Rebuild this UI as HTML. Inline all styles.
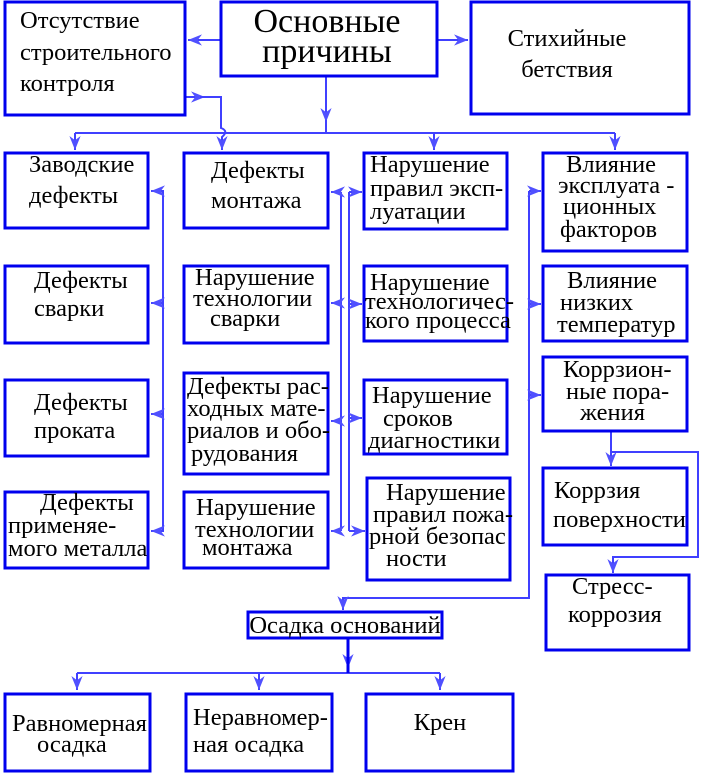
<!DOCTYPE html>
<html><head><meta charset="utf-8"><style>
html,body{margin:0;padding:0;background:#fff;}
svg{display:block;}
svg text{font-family:"Liberation Serif","Times New Roman",Times,"DejaVu Serif",serif;font-size:24.5px;fill:#000;}
.b{fill:#fff;stroke:#0000ee;stroke-width:3;}
.l{stroke:#4040ff;stroke-width:2;fill:none;}
</style></head><body>
<svg width="702" height="778" viewBox="0 0 702 778">
<defs><marker id="a" viewBox="0 0 10 10" refX="10" refY="5" markerWidth="7" markerHeight="7" orient="auto"><path d="M0,1 L10,5 L0,9 L3,5z" fill="#5050ff"/></marker></defs>

<g class="l">
<path d="M221,40 H188" marker-end="url(#a)"/>
<path d="M437,40 H468" marker-end="url(#a)"/>
<path d="M326,76 V122" marker-end="url(#a)"/>
<path d="M326,120 V133 M75,133 H615"/>
<path d="M75,133 V150" marker-end="url(#a)"/>
<path d="M434,133 V150" marker-end="url(#a)"/>
<path d="M615,133 V150" marker-end="url(#a)"/>
<path d="M185,97 H205" marker-end="url(#a)"/>
<path d="M200,97 H221 V128 Q229,131 222,137 V150" marker-end="url(#a)"/>
<path d="M163,190 V532"/>
<path d="M163,191 H151" marker-end="url(#a)"/>
<path d="M163,303 H151" marker-end="url(#a)"/>
<path d="M163,414 H151" marker-end="url(#a)"/>
<path d="M163,531 H151" marker-end="url(#a)"/>
<path d="M341,192 V531"/>
<path d="M341,192 H331" marker-end="url(#a)"/>
<path d="M341,303 H331" marker-end="url(#a)"/>
<path d="M341,421 H331" marker-end="url(#a)"/>
<path d="M341,531 H331" marker-end="url(#a)"/>
<path d="M349,192 V531"/>
<path d="M349,192 H362" marker-end="url(#a)"/>
<path d="M349,304 H362" marker-end="url(#a)"/>
<path d="M349,418 H362" marker-end="url(#a)"/>
<path d="M349,531 H365" marker-end="url(#a)"/>
<path d="M529,191 V598 H343 V610" />
<path d="M343,600 V610" marker-end="url(#a)"/>
<path d="M529,191 H541" marker-end="url(#a)"/>
<path d="M529,304 H541" marker-end="url(#a)"/>
<path d="M529,395 H541" marker-end="url(#a)"/>
<path d="M611,431 V466" marker-end="url(#a)"/>
<path d="M611,452 H698 V557 H613 V573" marker-end="url(#a)"/>
<path d="M348,639 V668" marker-end="url(#a)"/>
<path d="M77,673 H440"/>
<path d="M77,673 V690" marker-end="url(#a)"/>
<path d="M259,673 V690" marker-end="url(#a)"/>
<path d="M440,673 V690" marker-end="url(#a)"/>
</g>
<path d="M348,639 V673" stroke="#0000ee" stroke-width="3"/>

<rect class="b" x="5" y="2" width="180" height="113"/>
<rect class="b" x="221" y="2" width="216" height="74"/>
<rect class="b" x="471" y="2" width="218" height="112"/>
<rect class="b" x="5" y="153" width="143" height="75"/>
<rect class="b" x="184" y="153" width="144" height="75"/>
<rect class="b" x="364" y="153" width="143" height="76"/>
<rect class="b" x="543" y="153" width="144" height="98"/>
<rect class="b" x="5" y="266" width="143" height="77"/>
<rect class="b" x="184" y="266" width="144" height="77"/>
<rect class="b" x="364" y="266" width="143" height="75"/>
<rect class="b" x="543" y="266" width="144" height="75"/>
<rect class="b" x="5" y="380" width="143" height="76"/>
<rect class="b" x="184" y="373" width="144" height="101"/>
<rect class="b" x="364" y="380" width="143" height="74"/>
<rect class="b" x="543" y="357" width="144" height="74"/>
<rect class="b" x="5" y="492" width="143" height="76"/>
<rect class="b" x="184" y="492" width="144" height="76"/>
<rect class="b" x="367" y="478" width="143" height="102"/>
<rect class="b" x="543" y="468" width="144" height="77"/>
<rect class="b" x="546" y="575" width="143" height="75"/>
<rect class="b" x="248" y="612" width="194" height="26"/>
<rect class="b" x="5" y="694" width="145" height="77"/>
<rect class="b" x="186" y="694" width="146" height="77"/>
<rect class="b" x="366" y="694" width="147" height="77"/>

<g>
<text x="20" y="28">Отсутствие</text>
<text x="20" y="60">строительного</text>
<text x="20" y="91">контроля</text>
<text x="327" y="32" text-anchor="middle" style="font-size:34px">Основные</text>
<text x="327" y="62" text-anchor="middle" style="font-size:34px">причины</text>
<text x="567" y="46" text-anchor="middle">Стихийные</text>
<text x="567" y="77" text-anchor="middle">бетствия</text>
<text x="29" y="172">Заводские</text>
<text x="29" y="203">дефекты</text>
<text x="211" y="178">Дефекты</text>
<text x="211" y="208">монтажа</text>
<text x="370" y="172">Нарушение</text>
<text x="370" y="196">правил эксп-</text>
<text x="370" y="219">луатации</text>
<text x="566" y="172">Влияние</text>
<text x="558" y="193">эксплуата -</text>
<text x="563" y="214">ционных</text>
<text x="560" y="237">факторов</text>
<text x="34" y="288">Дефекты</text>
<text x="34" y="316">сварки</text>
<text x="195" y="285">Нарушение</text>
<text x="193" y="306">технологии</text>
<text x="210" y="326">сварки</text>
<text x="370" y="290">Нарушение</text>
<text x="365" y="309">технологичес-</text>
<text x="365" y="328">кого процесса</text>
<text x="567" y="288">Влияние</text>
<text x="560" y="310">низких</text>
<text x="557" y="332">температур</text>
<text x="34" y="410">Дефекты</text>
<text x="34" y="438">проката</text>
<text x="187" y="394">Дефекты рас-</text>
<text x="187" y="416">ходных мате-</text>
<text x="187" y="438">риалов и обо-</text>
<text x="191" y="461">рудования</text>
<text x="372" y="403">Нарушение</text>
<text x="383" y="426">сроков</text>
<text x="368" y="448">диагностики</text>
<text x="563" y="377">Коррзион-</text>
<text x="566" y="399">ные пора-</text>
<text x="580" y="420">жения</text>
<text x="40" y="510">Дефекты</text>
<text x="8" y="533">применяе-</text>
<text x="8" y="556">мого металла</text>
<text x="196" y="515">Нарушение</text>
<text x="195" y="537">технологии</text>
<text x="202" y="555">монтажа</text>
<text x="386" y="500">Нарушение</text>
<text x="373" y="522">правил пожа-</text>
<text x="369" y="544">рной безопас</text>
<text x="386" y="566">ности</text>
<text x="554" y="498">Коррзия</text>
<text x="553" y="527">поверхности</text>
<text x="572" y="594">Стресс-</text>
<text x="568" y="622">коррозия</text>
<text x="345" y="633" text-anchor="middle">Осадка оснований</text>
<text x="12" y="731">Равномерная</text>
<text x="37" y="752">осадка</text>
<text x="193" y="725">Неравномер-</text>
<text x="193" y="752">ная осадка</text>
<text x="440" y="730" text-anchor="middle">Крен</text>
</g>
</svg>
</body></html>
